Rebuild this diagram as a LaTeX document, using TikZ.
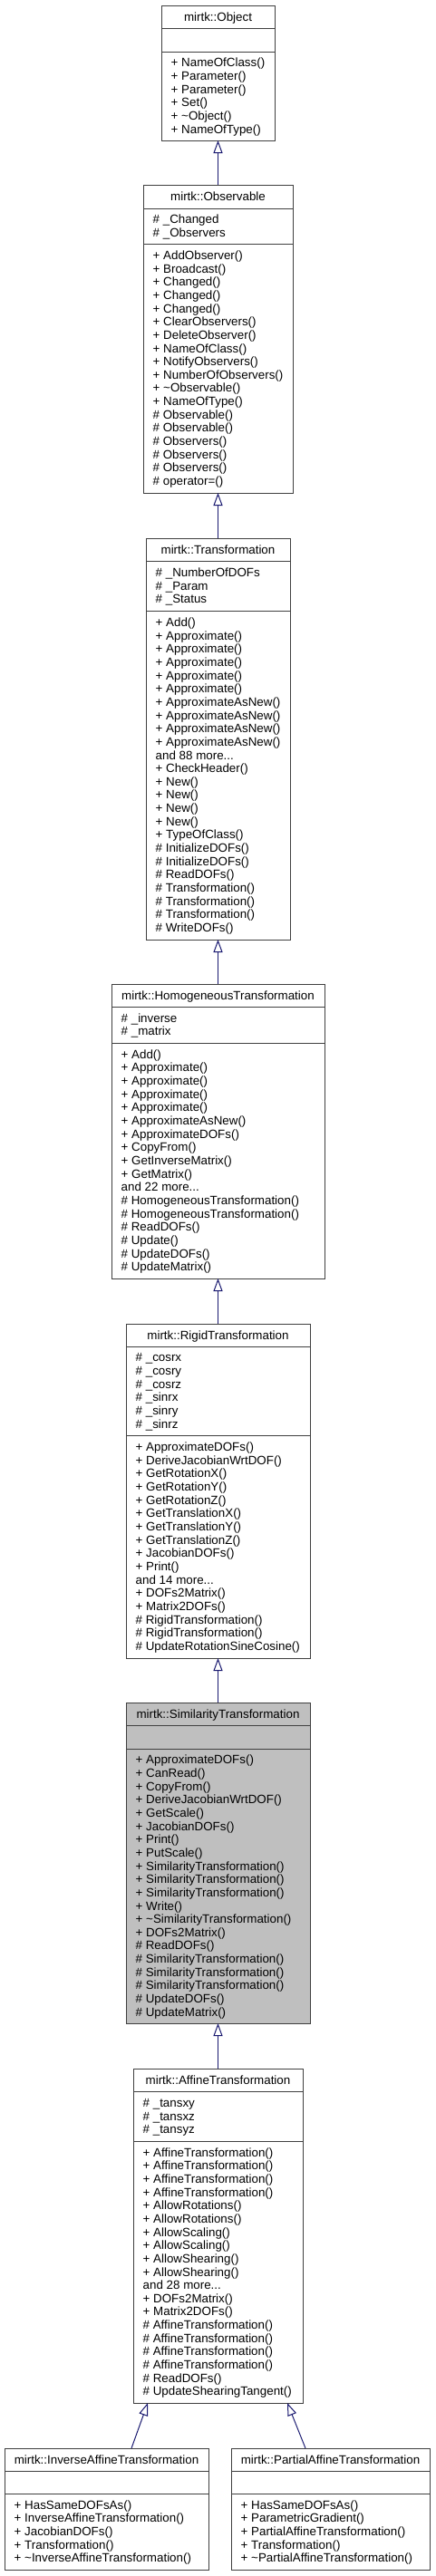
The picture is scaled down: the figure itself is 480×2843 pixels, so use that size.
\documentclass[tikz,border=0pt]{standalone}
\usepackage{fontspec}
\setmainfont{Liberation Sans}
\usetikzlibrary{arrows.meta}
\definecolor{edgeblue}{HTML}{191970}
\definecolor{boxline}{HTML}{404040}
\definecolor{simfill}{HTML}{BFBFBF}
\newcommand\Ls{\rule[-2.8pt]{0pt}{14.6pt}}
\newcommand\tl{\textasciitilde}
\newcommand\umlclass[8]{%
  \node[cbox, fill=#8, minimum width={#3-#2}, minimum height={#7-#4}, anchor=north west] (#1) at (#2,#4) {};
  \draw[cline] (#2,#5) -- (#3,#5);
  \draw[cline] (#2,#6) -- (#3,#6);
}
\tikzset{
  cbox/.style={draw=boxline, line width=1pt, inner sep=0pt, outer sep=0pt},
  cline/.style={draw=boxline, line width=1pt},
  ttext/.style={inner sep=0pt, font=\fontsize{13.36}{14.65}\selectfont},
  mtext/.style={inner sep=0pt, anchor=west, align=left, font=\fontsize{13.36}{14.65}\selectfont},
  inh/.style={draw=edgeblue, line width=1pt, -{Triangle[open, length=14pt, width=10pt]}},
}
\begin{document}
\begin{tikzpicture}[x=1pt, y=-1pt]
\fill[white] (0,0) rectangle (480,2843);
\useasboundingbox (0,0) rectangle (480,2843);

% Object
\umlclass{obj}{178}{303}{6}{31}{57}{155}{white}
\node[ttext] (objT) at ({(178+303)/2},{(6+31)/2}) {\Ls mirtk::Object};
\node[mtext] (objM) at (188.5,{(57+155)/2}) {\Ls + NameOfClass()\\\Ls + Parameter()\\\Ls + Parameter()\\\Ls + Set()\\\Ls + \tl Object()\\\Ls + NameOfType()};

% Observable
\umlclass{obs}{158}{323}{204}{230}{269}{544}{white}
\node[ttext] (obsT) at ({(158+323)/2},{(204+230)/2}) {\Ls mirtk::Observable};
\node[mtext] (obsA) at (168.5,{(230+269)/2}) {\Ls \# \_Changed\\\Ls \# \_Observers};
\node[mtext] (obsM) at (168.5,{(269+544)/2}) {\Ls + AddObserver()\\\Ls + Broadcast()\\\Ls + Changed()\\\Ls + Changed()\\\Ls + Changed()\\\Ls + ClearObservers()\\\Ls + DeleteObserver()\\\Ls + NameOfClass()\\\Ls + NotifyObservers()\\\Ls + NumberOfObservers()\\\Ls + \tl Observable()\\\Ls + NameOfType()\\\Ls \# Observable()\\\Ls \# Observable()\\\Ls \# Observers()\\\Ls \# Observers()\\\Ls \# Observers()\\\Ls \# operator=()};

% Transformation
\umlclass{trans}{161}{320}{594}{619}{674}{1037}{white}
\node[ttext] (transT) at ({(161+320)/2},{(594+619)/2}) {\Ls mirtk::Transformation};
\node[mtext] (transA) at (171.5,{(619+674)/2}) {\Ls \# \_NumberOfDOFs\\\Ls \# \_Param\\\Ls \# \_Status};
\node[mtext] (transM) at (171.5,{(674+1037)/2}) {\Ls + Add()\\\Ls + Approximate()\\\Ls + Approximate()\\\Ls + Approximate()\\\Ls + Approximate()\\\Ls + Approximate()\\\Ls + ApproximateAsNew()\\\Ls + ApproximateAsNew()\\\Ls + ApproximateAsNew()\\\Ls + ApproximateAsNew()\\\Ls and 88 more...\\\Ls + CheckHeader()\\\Ls + New()\\\Ls + New()\\\Ls + New()\\\Ls + New()\\\Ls + TypeOfClass()\\\Ls \# InitializeDOFs()\\\Ls \# InitializeDOFs()\\\Ls \# ReadDOFs()\\\Ls \# Transformation()\\\Ls \# Transformation()\\\Ls \# Transformation()\\\Ls \# WriteDOFs()};

% HomogeneousTransformation
\umlclass{homog}{123}{358}{1086}{1111}{1151}{1411}{white}
\node[ttext] (homogT) at ({(123+358)/2},{(1086+1111)/2}) {\Ls mirtk::HomogeneousTransformation};
\node[mtext] (homogA) at (133.5,{(1111+1151)/2}) {\Ls \# \_inverse\\\Ls \# \_matrix};
\node[mtext] (homogM) at (133.5,{(1151+1411)/2}) {\Ls + Add()\\\Ls + Approximate()\\\Ls + Approximate()\\\Ls + Approximate()\\\Ls + Approximate()\\\Ls + ApproximateAsNew()\\\Ls + ApproximateDOFs()\\\Ls + CopyFrom()\\\Ls + GetInverseMatrix()\\\Ls + GetMatrix()\\\Ls and 22 more...\\\Ls \# HomogeneousTransformation()\\\Ls \# HomogeneousTransformation()\\\Ls \# ReadDOFs()\\\Ls \# Update()\\\Ls \# UpdateDOFs()\\\Ls \# UpdateMatrix()};

% RigidTransformation
\umlclass{rigid}{139}{342}{1461}{1486}{1584}{1830}{white}
\node[ttext] (rigidT) at ({(139+342)/2},{(1461+1486)/2}) {\Ls mirtk::RigidTransformation};
\node[mtext] (rigidA) at (149.5,{(1486+1584)/2}) {\Ls \# \_cosrx\\\Ls \# \_cosry\\\Ls \# \_cosrz\\\Ls \# \_sinrx\\\Ls \# \_sinry\\\Ls \# \_sinrz};
\node[mtext] (rigidM) at (149.5,{(1584+1830)/2}) {\Ls + ApproximateDOFs()\\\Ls + DeriveJacobianWrtDOF()\\\Ls + GetRotationX()\\\Ls + GetRotationY()\\\Ls + GetRotationZ()\\\Ls + GetTranslationX()\\\Ls + GetTranslationY()\\\Ls + GetTranslationZ()\\\Ls + JacobianDOFs()\\\Ls + Print()\\\Ls and 14 more...\\\Ls + DOFs2Matrix()\\\Ls + Matrix2DOFs()\\\Ls \# RigidTransformation()\\\Ls \# RigidTransformation()\\\Ls \# UpdateRotationSineCosine()};

% SimilarityTransformation
\umlclass{sim}{139}{342}{1879}{1904}{1930}{2233}{simfill}
\node[ttext] (simT) at ({(139+342)/2},{(1879+1904)/2}) {\Ls mirtk::SimilarityTransformation};
\node[mtext] (simM) at (149.5,{(1930+2233)/2}) {\Ls + ApproximateDOFs()\\\Ls + CanRead()\\\Ls + CopyFrom()\\\Ls + DeriveJacobianWrtDOF()\\\Ls + GetScale()\\\Ls + JacobianDOFs()\\\Ls + Print()\\\Ls + PutScale()\\\Ls + SimilarityTransformation()\\\Ls + SimilarityTransformation()\\\Ls + SimilarityTransformation()\\\Ls + Write()\\\Ls + \tl SimilarityTransformation()\\\Ls + DOFs2Matrix()\\\Ls \# ReadDOFs()\\\Ls \# SimilarityTransformation()\\\Ls \# SimilarityTransformation()\\\Ls \# SimilarityTransformation()\\\Ls \# UpdateDOFs()\\\Ls \# UpdateMatrix()};

% AffineTransformation
\umlclass{aff}{147}{334}{2283}{2308}{2363}{2652}{white}
\node[ttext] (affT) at ({(147+334)/2},{(2283+2308)/2}) {\Ls mirtk::AffineTransformation};
\node[mtext] (affA) at (157.5,{(2308+2363)/2}) {\Ls \# \_tansxy\\\Ls \# \_tansxz\\\Ls \# \_tansyz};
\node[mtext] (affM) at (157.5,{(2363+2652)/2}) {\Ls + AffineTransformation()\\\Ls + AffineTransformation()\\\Ls + AffineTransformation()\\\Ls + AffineTransformation()\\\Ls + AllowRotations()\\\Ls + AllowRotations()\\\Ls + AllowScaling()\\\Ls + AllowScaling()\\\Ls + AllowShearing()\\\Ls + AllowShearing()\\\Ls and 28 more...\\\Ls + DOFs2Matrix()\\\Ls + Matrix2DOFs()\\\Ls \# AffineTransformation()\\\Ls \# AffineTransformation()\\\Ls \# AffineTransformation()\\\Ls \# AffineTransformation()\\\Ls \# ReadDOFs()\\\Ls \# UpdateShearingTangent()};

% InverseAffineTransformation
\umlclass{inv}{5}{230}{2702}{2727}{2752}{2836}{white}
\node[ttext] (invT) at ({(5+230)/2},{(2702+2727)/2}) {\Ls mirtk::InverseAffineTransformation};
\node[mtext] (invM) at (15.5,{(2752+2836)/2}) {\Ls + HasSameDOFsAs()\\\Ls + InverseAffineTransformation()\\\Ls + JacobianDOFs()\\\Ls + Transformation()\\\Ls + \tl InverseAffineTransformation()};

% PartialAffineTransformation
\umlclass{part}{255}{474}{2702}{2727}{2752}{2836}{white}
\node[ttext] (partT) at ({(255+474)/2},{(2702+2727)/2}) {\Ls mirtk::PartialAffineTransformation};
\node[mtext] (partM) at (265.5,{(2752+2836)/2}) {\Ls + HasSameDOFsAs()\\\Ls + ParametricGradient()\\\Ls + PartialAffineTransformation()\\\Ls + Transformation()\\\Ls + \tl PartialAffineTransformation()};

% inheritance arrows
\draw[inh] (obs.north) -- (obj.south);
\draw[inh] (trans.north) -- (obs.south);
\draw[inh] (homog.north) -- (trans.south);
\draw[inh] (rigid.north) -- (homog.south);
\draw[inh] (sim.north) -- (rigid.south);
\draw[inh] (aff.north) -- (sim.south);
\draw[inh] ([xshift=27.5pt]inv.north) -- ([xshift=-77.5pt]aff.south);
\draw[inh] ([xshift=-27.5pt]part.north) -- ([xshift=76.5pt]aff.south);
\end{tikzpicture}
\end{document}
